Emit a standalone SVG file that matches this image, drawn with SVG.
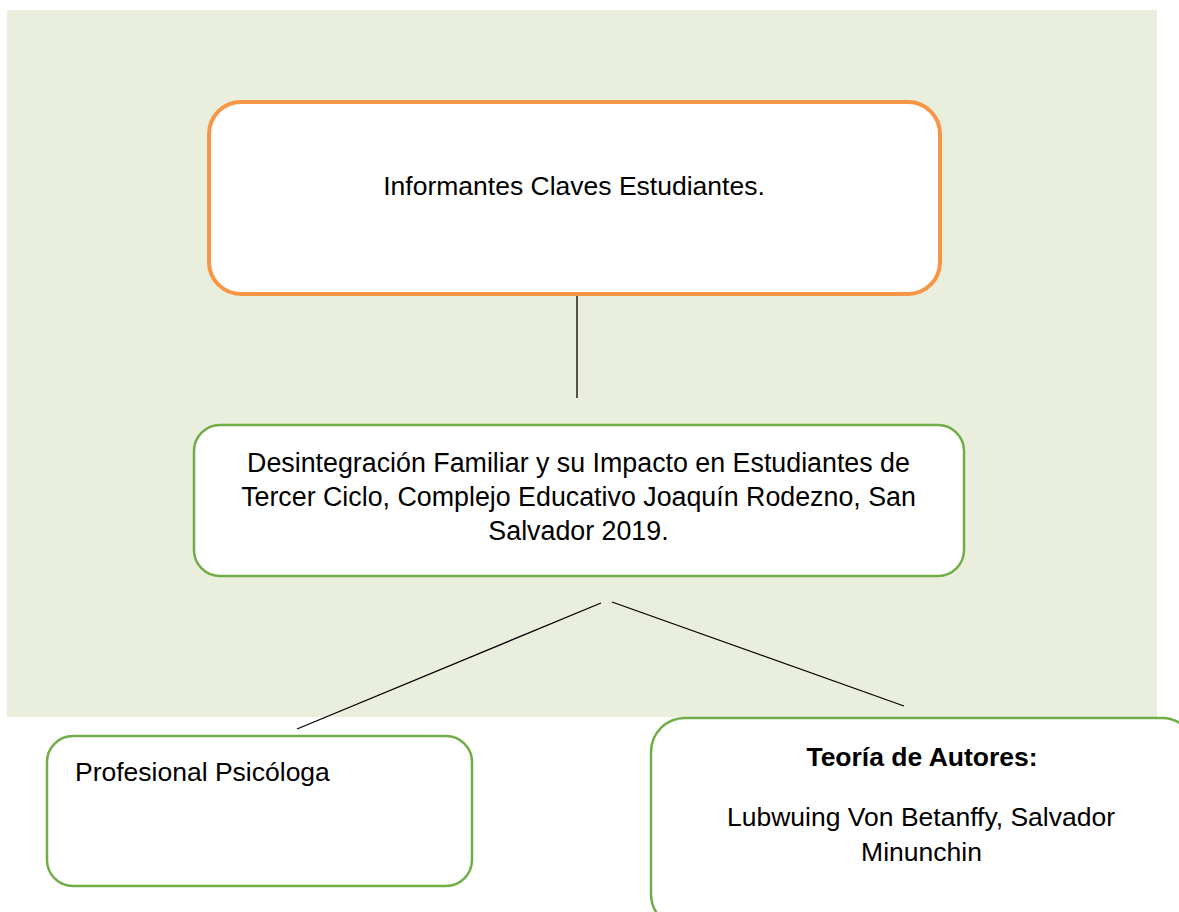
<svg xmlns="http://www.w3.org/2000/svg" width="1179" height="912" viewBox="0 0 1179 912">
<style>
.t{font-family:"Liberation Sans",Arial,sans-serif;font-size:26.5px;fill:#000}
.m{font-size:26.8px}
.c{text-anchor:middle}
.b{font-weight:bold}
.g{fill:#fff;stroke:#70AD47;stroke-width:2.5}
.o{fill:#fff;stroke:#F79646;stroke-width:4}
.ln{stroke:#000;stroke-width:1.3;fill:none}
</style>
<rect x="0" y="0" width="1179" height="912" fill="#fff"/>
<rect id="background" x="7" y="10" width="1150" height="707" fill="#EAEEDD"/>
<g id="connectors">
<line class="ln" x1="577" y1="296" x2="577" y2="398"/>
<line class="ln" x1="601" y1="603" x2="297" y2="729"/>
<line class="ln" x1="612" y1="602" x2="904" y2="706"/>
</g>
<g id="informantes">
<rect class="o" x="209" y="102" width="731" height="192" rx="32"/>
<text class="t c" x="574" y="195">Informantes Claves Estudiantes.</text>
</g>
<g id="tema">
<rect class="g" x="194" y="425" width="770" height="151" rx="26"/>
<text class="t m c" x="578.5" y="472">Desintegración Familiar y su Impacto en Estudiantes de</text>
<text class="t m c" x="578.5" y="506">Tercer Ciclo, Complejo Educativo Joaquín Rodezno, San</text>
<text class="t m c" x="578.5" y="540">Salvador 2019.</text>
</g>
<g id="psicologa">
<rect class="g" x="47" y="736" width="425" height="150" rx="26"/>
<text class="t" x="75" y="781">Profesional Psicóloga</text>
</g>
<g id="teoria">
<rect class="g" x="651" y="718" width="545" height="210" rx="34"/>
<text class="t c b" x="922" y="766">Teoría de Autores:</text>
<text class="t c" x="921" y="826">Lubwuing Von Betanffy, Salvador</text>
<text class="t c" x="921.5" y="861">Minunchin</text>
</g>
</svg>
